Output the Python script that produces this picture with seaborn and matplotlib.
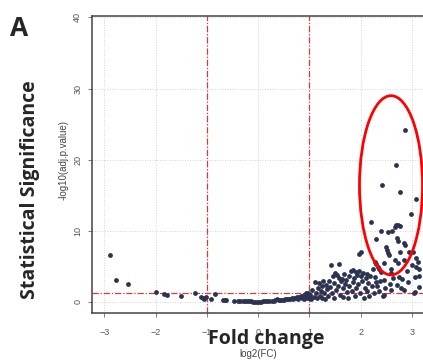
import matplotlib
matplotlib.use("Agg")
import matplotlib.pyplot as plt
from matplotlib.patches import Ellipse
import pandas as pd
import seaborn as sns

# fold change (log2) and significance (-log10 adj p)
left_fc = [-2.88, -2.77, -2.54, -1.99, -1.84, -1.77, -1.50, -1.24, -1.11, -1.08,
           -1.05, -1.01, -0.92, -0.84, -0.69, -0.64, -0.62]
left_sig = [6.6, 3.1, 2.5, 1.4, 1.17, 1.0, 0.78, 1.3, 0.7, 0.55,
            0.45, 0.68, 0.42, 1.1, 0.33, 0.28, 0.3]

mid_fc = [-0.47, -0.40, -0.35, -0.30, -0.26, -0.22, -0.18, -0.14, -0.10, -0.06,
          -0.02, 0.02, 0.06, 0.10, 0.14, 0.18, 0.22, 0.26, 0.30, 0.33,
          0.36, 0.40, 0.43, 0.46, 0.50, 0.53, 0.56, 0.59, 0.62, 0.65,
          0.68, 0.70, 0.73, 0.76, 0.78, 0.80, 0.83, 0.85, 0.87, 0.89,
          0.90, 0.92, 0.93, 0.95, 0.97, 0.98, 1.00, 1.02]
mid_sig = [0.18, 0.15, 0.14, 0.12, 0.10, 0.10, 0.08, 0.07, 0.06, 0.05,
           0.05, 0.05, 0.06, 0.08, 0.10, 0.12, 0.14, 0.18, 0.20, 0.28,
           0.35, 0.30, 0.26, 0.32, 0.30, 0.35, 0.40, 0.36, 0.45, 0.50,
           0.42, 0.55, 0.60, 0.70, 0.48, 0.65, 0.80, 0.62, 0.90, 0.45,
           1.05, 0.75, 1.30, 0.55, 1.20, 0.85, 0.60, 0.95]

up_fc = [1.03, 1.05, 1.08, 1.10, 1.12, 1.14, 1.16, 1.18, 1.20, 1.22,
         1.24, 1.25, 1.27, 1.29, 1.30, 1.32, 1.34, 1.36, 1.38, 1.40,
         1.42, 1.43, 1.45, 1.47, 1.48, 1.50, 1.52, 1.53, 1.55, 1.57,
         1.58, 1.60, 1.61, 1.63, 1.65, 1.66, 1.68, 1.70, 1.72, 1.73,
         1.75, 1.77, 1.78, 1.80, 1.82, 1.84, 1.85, 1.87, 1.88, 1.90,
         1.91, 1.93, 1.95, 1.96, 1.98, 2.00, 2.01, 1.97, 2.03, 2.05,
         2.06, 2.08, 2.10, 2.12, 2.13, 2.15, 2.17, 2.18, 2.20, 2.21,
         2.23, 2.25, 2.27, 2.27, 2.29, 2.30, 2.30, 2.31, 2.33, 2.35,
         2.36, 2.38, 2.40, 2.40, 2.42, 2.43, 2.45, 2.46, 2.46, 2.47,
         2.49, 2.51, 2.53, 2.55, 2.53, 2.57, 2.59, 2.59, 2.59, 2.61,
         2.63, 2.66, 2.66, 2.69, 2.69, 2.71, 2.71, 2.72, 2.72, 2.73,
         2.75, 2.77, 2.77, 2.77, 2.79, 2.80, 2.84, 2.84, 2.85, 2.87,
         2.87, 2.90, 2.92, 2.95, 2.97, 3.00, 3.01, 3.03, 3.05, 3.05,
         3.07, 3.08, 3.08, 3.11, 3.14, 3.14, 3.14]
up_sig = [0.4, 1.7, 0.7, 2.8, 1.2, 0.5, 1.9, 2.6, 0.9, 1.5,
          2.2, 0.6, 2.9, 1.3, 0.4, 2.4, 1.8, 0.8, 3.0, 2.1,
          5.2, 1.2, 3.6, 2.6, 0.6, 4.1, 1.7, 3.8, 2.3, 5.35,
          3.4, 1.0, 2.9, 3.2, 1.9, 0.7, 4.0, 2.5, 3.1, 1.4,
          0.5, 3.7, 2.2, 4.3, 1.6, 4.5, 2.8, 3.4, 0.8, 4.2,
          1.9, 3.8, 2.5, 4.4, 1.2, 3.6, 7.0, 6.8, 2.9, 4.1,
          0.6, 2.0, 3.3, 1.5, 4.0, 2.7, 0.9, 3.6, 11.3, 2.2,
          4.6, 1.2, 3.5, 5.65, 2.8, 5.3, 8.85, 2.2, 4.95, 4.6,
          1.6, 3.0, 4.25, 9.96, 16.4, 0.9, 5.5, 1.0, 3.1, 1.9,
          7.7, 7.3, 6.9, 6.6, 9.9, 2.5, 4.7, 4.1, 1.7, 10.0,
          3.3, 10.5, 5.9, 10.8, 19.2, 9.0, 2.4, 8.6, 5.5, 10.85,
          3.55, 10.66, 7.06, 15.5, 1.9, 3.2, 8.3, 5.9, 1.7, 8.0,
          24.2, 4.3, 2.8, 7.06, 12.4, 5.2, 7.06, 1.3, 3.46, 1.45,
          14.45, 4.95, 6.2, 5.65, 4.6, 2.15, 3.6]

x_ticks = [-3, -2, -1, 0, 1, 2, 3]
y_ticks = [0, 10, 20, 30, 40]
fc_cutoff = [-1, 1]
p_cutoff = 1.3

df = pd.DataFrame({
    "fc": left_fc + mid_fc + up_fc,
    "sig": left_sig + mid_sig + up_sig,
})

sns.set_style("white")
plt.rcParams["font.family"] = ["Liberation Sans", "DejaVu Sans"]

W, H = 423, 361
fig = plt.figure(figsize=(W / 100, H / 100), dpi=100)
ax = fig.add_axes([92 / W, 1 - 313 / H, 338 / W, 297 / H])

for v in x_ticks:
    ax.axvline(v, color="#cfcfcf", lw=0.6, ls=(0, (1.2, 1.8)), zorder=0)
for v in y_ticks:
    ax.axhline(v, color="#cfcfcf", lw=0.6, ls=(0, (1.2, 1.8)), zorder=0)
# cut-off lines
red_ls = (0, (5, 1.5, 1, 1.5))
for v in fc_cutoff:
    ax.axvline(v, color="#d63a3a", lw=0.9, ls=red_ls, zorder=1)
ax.axhline(p_cutoff, color="#d63a3a", lw=0.9, ls=red_ls, zorder=1)

sns.scatterplot(data=df, x="fc", y="sig", ax=ax, color="#2c3350",
                s=12, linewidth=0, zorder=3, legend=False)

ax.add_patch(Ellipse((2.59, 16.4), width=1.23, height=25.2, fill=False,
                     edgecolor="#ff0000", lw=2, zorder=4))

ax.set_xlim(-3.24, 3.35)
ax.set_ylim(-1.55, 40.2)
ax.set_xticks(x_ticks)
ax.set_yticks(y_ticks)
ax.set_xlabel("")
ax.set_ylabel("")
ax.spines["right"].set_visible(False)
for side in ["left", "bottom", "top"]:
    ax.spines[side].set_color("#444444")
    ax.spines[side].set_linewidth(1.1)
ax.tick_params(axis="both", direction="out", length=3, width=0.6,
               color="#666666", labelcolor="#555555", labelsize=6.5)
ax.tick_params(axis="x", bottom=True, pad=8)
ax.tick_params(axis="y", left=True, pad=4, labelrotation=90)
for lab in ax.get_yticklabels():
    lab.set_va("center")

bold = ["Open Sans", "DejaVu Sans"]
fig.text(19 / W, 1 - 28 / H, "A", fontsize=19, fontweight="bold",
         family=bold, ha="center", va="center")
fig.text(30 / W, 1 - 190 / H, "Statistical Significance", fontsize=14,
         fontweight="bold", family=bold, rotation=90, ha="center", va="center")
fig.text(64 / W, 1 - 160 / H, "-log10(adj.p.value)", fontsize=7,
         color="#444444", rotation=90, ha="center", va="center")
fig.text(266 / W, 1 - 339 / H, "Fold change", fontsize=14,
         fontweight="bold", family=bold, ha="center", va="center")
fig.text(258 / W, 1 - 354 / H, "log2(FC)", fontsize=7,
         color="#444444", ha="center", va="center")

fig.savefig("out.png", dpi=100)
